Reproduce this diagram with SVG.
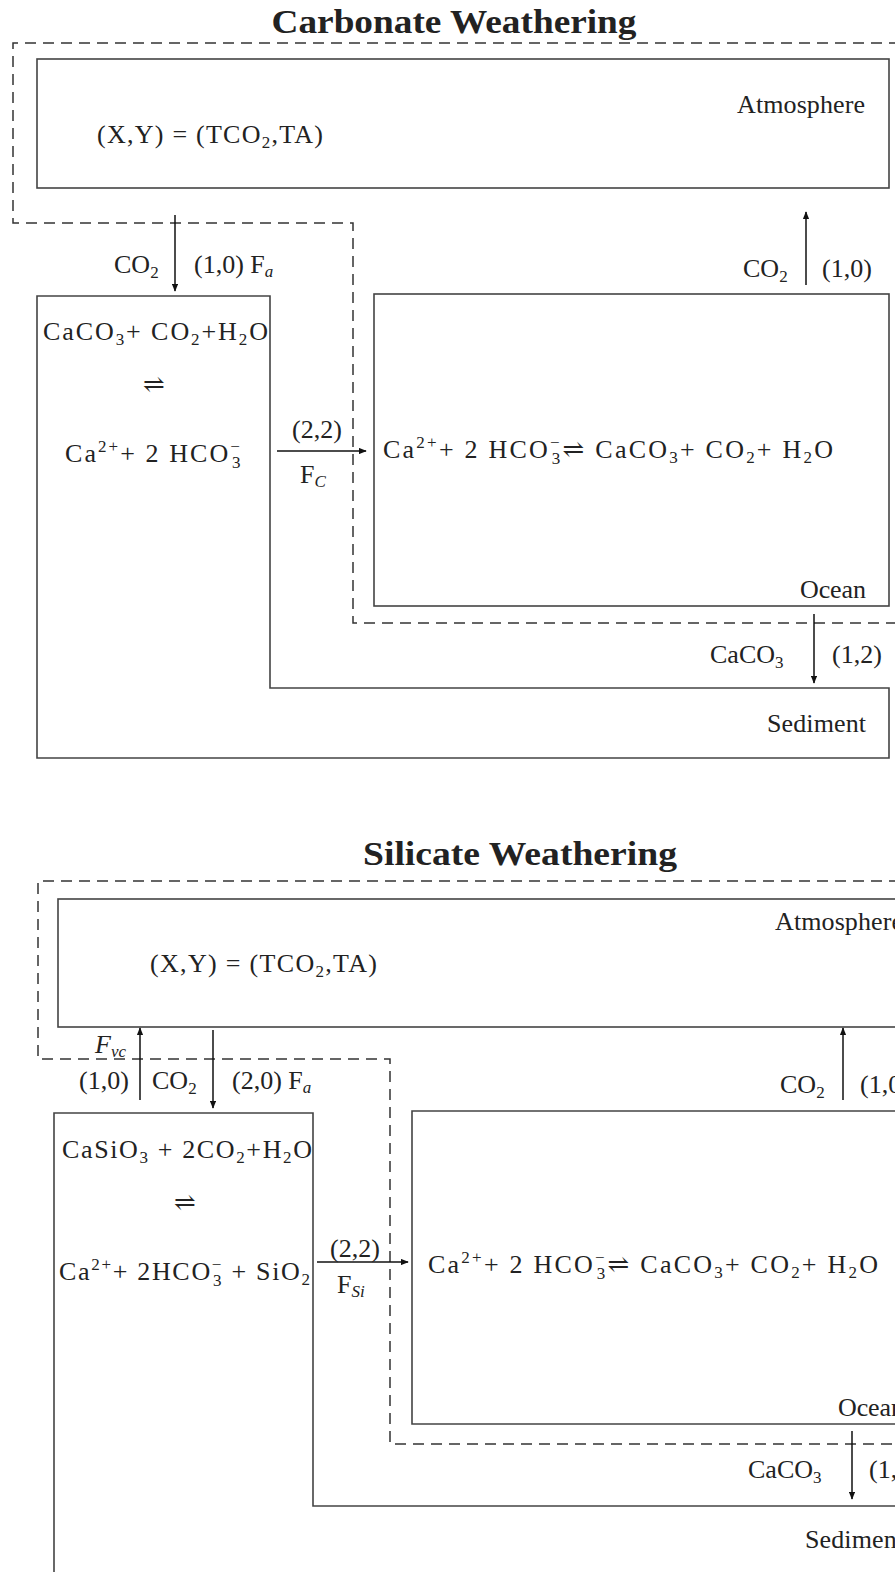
<svg xmlns="http://www.w3.org/2000/svg" width="895" height="1572" viewBox="0 0 895 1572">
<style>
.t{font-family:"Liberation Serif","DejaVu Serif",serif;font-size:26px;fill:#222}
.sb{font-size:17px}
.it{font-style:italic}
.title{font-family:"Liberation Serif","DejaVu Serif",serif;font-size:33px;font-weight:bold;fill:#222}
.box{fill:none;stroke:#444;stroke-width:1.6}
.dash{fill:none;stroke:#333;stroke-width:1.5;stroke-dasharray:11 7}
.arr{stroke:#111;stroke-width:1.5;fill:none;marker-end:url(#ah)}
</style>
<defs>
<marker id="ah" viewBox="0 0 10 8" refX="9" refY="4" markerWidth="8" markerHeight="6.4" markerUnits="userSpaceOnUse" orient="auto"><path d="M0,0 L10,4 L0,8 Z" fill="#111"/></marker>
</defs>
<rect width="895" height="1572" fill="#fff"/>

<!-- ===== Carbonate Weathering ===== -->
<text class="title" x="454" y="33" text-anchor="middle" textLength="365" lengthAdjust="spacingAndGlyphs">Carbonate Weathering</text>
<g id="c-system">
<path class="dash" d="M900,43 L13,43 L13,223 L353,223 L353,623 L900,623"/>
</g>
<g id="c-atmosphere">
<rect class="box" x="37" y="59" width="852" height="129"/>
<text class="t" x="97" y="143" textLength="226">(X,Y) = (TCO<tspan class="sb" dy="5">2</tspan><tspan dy="-5">,TA)</tspan></text>
<text class="t" x="737" y="113" textLength="128">Atmosphere</text>
</g>
<g id="c-land-sediment">
<path class="box" d="M37,296 L270,296 L270,688 L889,688 L889,758 L37,758 Z"/>
<text class="t" x="43" y="340" textLength="225">CaCO<tspan class="sb" dy="5">3</tspan><tspan dy="-5">+ CO</tspan><tspan class="sb" dy="5">2</tspan><tspan dy="-5">+H</tspan><tspan class="sb" dy="5">2</tspan><tspan dy="-5">O</tspan></text>
<text class="t" x="154" y="393" text-anchor="middle">⇌</text>
<text class="t" x="65" y="462" textLength="177">Ca<tspan class="sb" dy="-10">2+</tspan><tspan dy="10">+ 2 HCO</tspan><tspan class="sb" dy="-10">−</tspan><tspan class="sb" dx="-10" dy="16">3</tspan></text>
<text class="t" x="767" y="732" textLength="99">Sediment</text>
</g>
<g id="c-ocean">
<rect class="box" x="374" y="294" width="515" height="312"/>
<text class="t" x="383" y="458" textLength="450">Ca<tspan class="sb" dy="-10">2+</tspan><tspan dy="10">+ 2 HCO</tspan><tspan class="sb" dy="-10">−</tspan><tspan class="sb" dx="-10" dy="16">3</tspan><tspan dy="-6">⇌ CaCO</tspan><tspan class="sb" dy="5">3</tspan><tspan dy="-5">+ CO</tspan><tspan class="sb" dy="5">2</tspan><tspan dy="-5">+ H</tspan><tspan class="sb" dy="5">2</tspan><tspan dy="-5">O</tspan></text>
<text class="t" x="800" y="598" textLength="66">Ocean</text>
</g>
<g id="c-connectors">
<line class="arr" x1="175" y1="215" x2="175" y2="291"/>
<text class="t" x="114" y="273">CO<tspan class="sb" dy="5">2</tspan></text>
<text class="t" x="194" y="273">(1,0) F<tspan class="sb it" dy="4">a</tspan></text>
<line class="arr" x1="806" y1="285" x2="806" y2="212"/>
<text class="t" x="743" y="277">CO<tspan class="sb" dy="5">2</tspan></text>
<text class="t" x="822" y="277">(1,0)</text>
<line class="arr" x1="277" y1="451" x2="366" y2="451"/>
<text class="t" x="292" y="438">(2,2)</text>
<text class="t" x="300" y="483">F<tspan class="sb it" dy="4">C</tspan></text>
<line class="arr" x1="814" y1="614" x2="814" y2="683"/>
<text class="t" x="710" y="663">CaCO<tspan class="sb" dy="5">3</tspan></text>
<text class="t" x="832" y="663">(1,2)</text>
</g>

<!-- ===== Silicate Weathering ===== -->
<text class="title" x="520" y="865" text-anchor="middle" textLength="314" lengthAdjust="spacingAndGlyphs">Silicate Weathering</text>
<g id="s-system">
<path class="dash" d="M900,881 L38,881 L38,1059 L390,1059 L390,1444 L900,1444"/>
</g>
<g id="s-atmosphere">
<rect class="box" x="58" y="899" width="860" height="128"/>
<text class="t" x="150" y="972" textLength="227">(X,Y) = (TCO<tspan class="sb" dy="5">2</tspan><tspan dy="-5">,TA)</tspan></text>
<text class="t" x="775" y="930" textLength="128">Atmosphere</text>
</g>
<g id="s-land-sediment">
<path class="box" d="M920,1506 L313,1506 L313,1113 L54,1113 L54,1580"/>
<text class="t" x="62" y="1158" textLength="250">CaSiO<tspan class="sb" dy="5">3</tspan><tspan dy="-5"> + 2CO</tspan><tspan class="sb" dy="5">2</tspan><tspan dy="-5">+H</tspan><tspan class="sb" dy="5">2</tspan><tspan dy="-5">O</tspan></text>
<text class="t" x="185" y="1211" text-anchor="middle">⇌</text>
<text class="t" x="59" y="1280" textLength="251">Ca<tspan class="sb" dy="-10">2+</tspan><tspan dy="10">+ 2HCO</tspan><tspan class="sb" dy="-10">−</tspan><tspan class="sb" dx="-10" dy="16">3</tspan><tspan dy="-6"> + SiO</tspan><tspan class="sb" dy="5">2</tspan></text>
<text class="t" x="805" y="1548" textLength="99">Sediment</text>
</g>
<g id="s-ocean">
<path class="box" d="M920,1111 L412,1111 L412,1424 L920,1424"/>
<text class="t" x="428" y="1273" textLength="450">Ca<tspan class="sb" dy="-10">2+</tspan><tspan dy="10">+ 2 HCO</tspan><tspan class="sb" dy="-10">−</tspan><tspan class="sb" dx="-10" dy="16">3</tspan><tspan dy="-6">⇌ CaCO</tspan><tspan class="sb" dy="5">3</tspan><tspan dy="-5">+ CO</tspan><tspan class="sb" dy="5">2</tspan><tspan dy="-5">+ H</tspan><tspan class="sb" dy="5">2</tspan><tspan dy="-5">O</tspan></text>
<text class="t" x="838" y="1416" textLength="66">Ocean</text>
</g>
<g id="s-connectors">
<line class="arr" x1="140" y1="1100" x2="140" y2="1028"/>
<text class="t it" x="95" y="1053">F<tspan class="sb" dy="4">vc</tspan></text>
<text class="t" x="79" y="1089">(1,0)</text>
<text class="t" x="152" y="1089">CO<tspan class="sb" dy="5">2</tspan></text>
<line class="arr" x1="213" y1="1030" x2="213" y2="1108"/>
<text class="t" x="232" y="1089">(2,0) F<tspan class="sb it" dy="4">a</tspan></text>
<line class="arr" x1="843" y1="1100" x2="843" y2="1028"/>
<text class="t" x="780" y="1093">CO<tspan class="sb" dy="5">2</tspan></text>
<text class="t" x="860" y="1093">(1,0)</text>
<line class="arr" x1="317" y1="1262" x2="408" y2="1262"/>
<text class="t" x="330" y="1257">(2,2)</text>
<text class="t" x="337" y="1293">F<tspan class="sb it" dy="4">Si</tspan></text>
<line class="arr" x1="852" y1="1431" x2="852" y2="1499"/>
<text class="t" x="748" y="1478">CaCO<tspan class="sb" dy="5">3</tspan></text>
<text class="t" x="869" y="1478">(1,2)</text>
</g>
</svg>
